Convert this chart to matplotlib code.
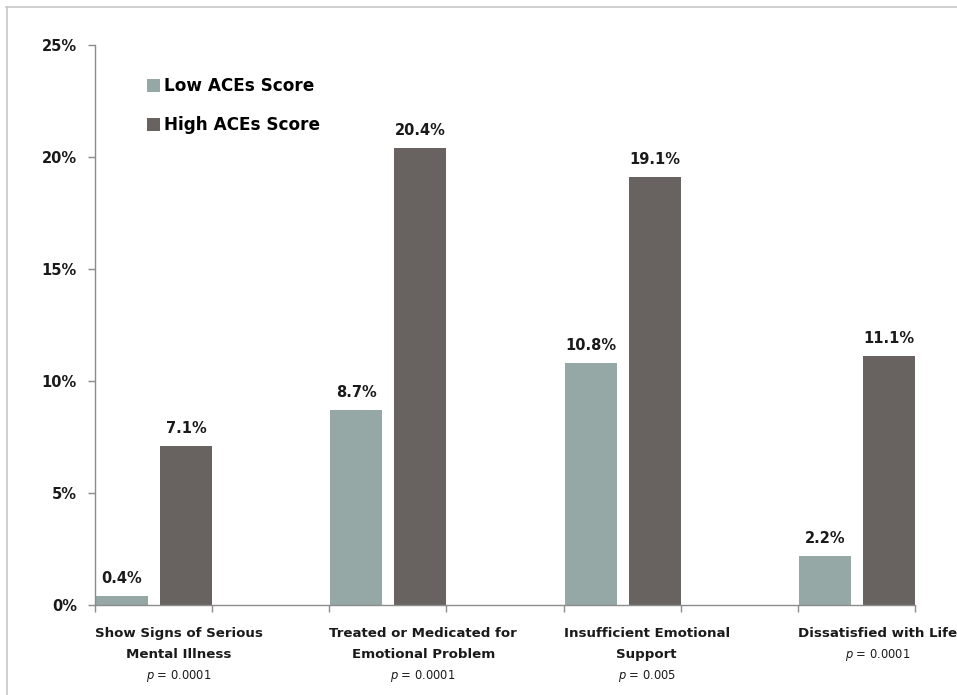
import matplotlib
matplotlib.use("Agg")
import matplotlib.pyplot as plt
from matplotlib.patches import Patch
from matplotlib.lines import Line2D

categories = ["Show Signs of Serious\nMental Illness",
              "Treated or Medicated for\nEmotional Problem",
              "Insufficient Emotional\nSupport",
              "Dissatisfied with Life"]
low_aces = [0.4, 8.7, 10.8, 2.2]
high_aces = [7.1, 20.4, 19.1, 11.1]
p_values = ["0.0001", "0.0001", "0.005", "0.0001"]
yticks = [0, 5, 10, 15, 20, 25]
series_names = ["Low ACEs Score", "High ACEs Score"]

low_color = "#95A8A6"
high_color = "#686360"
axis_color = "#8C8C8C"
FONT = "DejaVu Sans"

fig = plt.figure(figsize=(9.57, 6.95), dpi=100)
ax = fig.add_axes([95/957, 1-605/695, (915-95)/957, (605-45)/695])

bw = 0.444
slots = [2*i for i in range(len(categories))]
low_x = [s + 0.009 for s in slots]
high_x = [s + 0.556 for s in slots]
ax.bar(low_x, low_aces, width=bw, align="edge", color=low_color, zorder=2)
ax.bar(high_x, high_aces, width=bw, align="edge", color=high_color, zorder=2)

for x, v in zip(low_x, low_aces):
    ax.text(x + bw/2, v + 0.45, f"{v:.1f}%", ha="center", va="bottom",
            fontsize=10.5, fontweight="bold", family=FONT, color="#1a1a1a")
for x, v in zip(high_x, high_aces):
    ax.text(x + bw/2, v + 0.45, f"{v:.1f}%", ha="center", va="bottom",
            fontsize=10.5, fontweight="bold", family=FONT, color="#1a1a1a")

ax.set_xlim(0, 7)
ax.set_ylim(0, 25)
ax.set_yticks(yticks)
ax.set_yticklabels([f"{t}%" for t in yticks], fontsize=10.5, fontweight="bold",
                   family=FONT, color="#1a1a1a")
ax.set_xticks(range(0, 8))
ax.set_xticklabels([])
ax.tick_params(axis="x", direction="out", length=5, color=axis_color, width=1)
ax.tick_params(axis="y", direction="out", length=5, color=axis_color, width=1, pad=8)
for s in ["top", "right"]:
    ax.spines[s].set_visible(False)
for s in ["left", "bottom"]:
    ax.spines[s].set_color(axis_color)
    ax.spines[s].set_linewidth(1)

for s, cat, p in zip(slots, categories, p_values):
    t = ax.text(s, -1.0, cat, ha="left", va="top", multialignment="center",
                fontsize=9.6, fontweight="bold", family=FONT, color="#1a1a1a",
                linespacing=1.8)
    ax.annotate(f"$\\it{{p}}$ = {p}", xy=(0.5, 0), xycoords=t,
                xytext=(0, -5), textcoords="offset points",
                ha="center", va="top", fontsize=8.3, family=FONT, color="#1a1a1a")

handles = [Patch(facecolor=low_color, edgecolor="none"),
           Patch(facecolor=high_color, edgecolor="none")]
leg = fig.legend(handles, series_names, loc="upper left",
                 bbox_to_anchor=(132/957, 1-62/695), frameon=False,
                 handlelength=0.75, handleheight=0.75, handletextpad=0.25,
                 labelspacing=1.25, prop={"family": FONT, "weight": "bold", "size": 12.2})

# light outer frame (top and left)
fig.add_artist(Line2D([6/957, 1], [1-7/695, 1-7/695], transform=fig.transFigure,
                      color="#C8C8C8", lw=1.2))
fig.add_artist(Line2D([7/957, 7/957], [0, 1-7/695], transform=fig.transFigure,
                      color="#C8C8C8", lw=1.2))

fig.savefig("out.png", dpi=100)
